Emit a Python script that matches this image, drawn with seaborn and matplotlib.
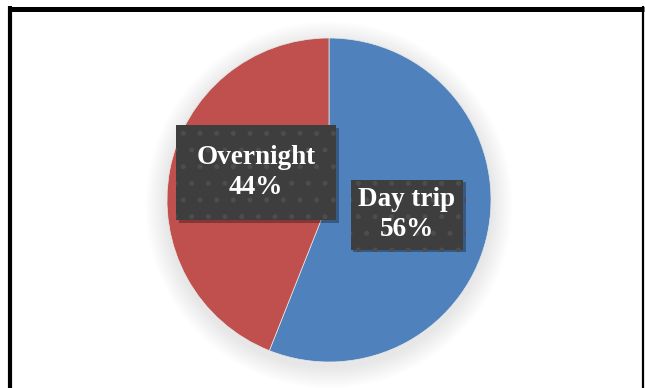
import matplotlib
matplotlib.use("Agg")
import matplotlib.pyplot as plt
import matplotlib.patheffects as pe
from matplotlib.patches import Circle
from matplotlib.lines import Line2D
import seaborn as sns

categories = ["Day trip", "Overnight"]
shares = [56, 44]
colors = ["#4F81BD", "#C0504D"]
label_pos = [(0.48, -0.09), (-0.45, 0.17)]
label_pad = [0.28, 0.75]

sns.set_theme(style="white")
plt.rcParams["font.family"] = ["Liberation Serif", "DejaVu Serif"]
plt.rcParams["hatch.linewidth"] = 1.2

W, H, DPI = 645, 388, 100
fig = plt.figure(figsize=(W / DPI, H / DPI), dpi=DPI, facecolor="white")
ax = fig.add_axes([0, 0, 1, 1])
ax.set_facecolor("white")

# faint soft shadow around the pie
for i in range(12):
    r = 1.0 + 0.011 * (12 - i)
    ax.add_patch(Circle((0, -0.03), r, facecolor="#000000", alpha=0.006,
                        edgecolor="none", zorder=0))

wedges, _ = ax.pie(shares, colors=colors, startangle=90, counterclock=False,
                   radius=1.0, wedgeprops=dict(edgecolor="#e8e8e8", linewidth=0.5))
for w in wedges:
    w.set_zorder(2)

for cat, val, (x, y), pad in zip(categories, shares, label_pos, label_pad):
    t = ax.text(x, y, f"{cat}\n{val}%", ha="center", va="center",
                fontsize=19.5, fontweight="bold", color="white", linespacing=1.25,
                zorder=5,
                bbox=dict(boxstyle=f"square,pad={pad}", facecolor="#3e3e3e",
                          edgecolor="#4d4d4d", linewidth=0, hatch="."))
    t.get_bbox_patch().set_path_effects(
        [pe.withSimplePatchShadow(offset=(2, -2), shadow_rgbFace="black", alpha=0.3),
         pe.Normal()])

scale = 162.0
cx, cy = 329.0, 200.0
ax.set_xlim(-cx / scale, (W - cx) / scale)
ax.set_ylim(-(H - cy) / scale, cy / scale)
ax.set_aspect("auto")
ax.axis("off")

# outer frame (open at the bottom)
def fx(px):
    return px / W

def fy(py):
    return 1 - py / H

fig.add_artist(Line2D([fx(8), fx(644)], [fy(8.5), fy(8.5)], color="black",
                      linewidth=3.6, transform=fig.transFigure, solid_capstyle="butt"))
fig.add_artist(Line2D([fx(10), fx(10)], [fy(6), fy(H)], color="black",
                      linewidth=3.0, transform=fig.transFigure, solid_capstyle="butt"))
fig.add_artist(Line2D([fx(643), fx(643)], [fy(6), fy(H)], color="black",
                      linewidth=1.6, transform=fig.transFigure, solid_capstyle="butt"))

fig.savefig("out.png", dpi=DPI, facecolor="white")
